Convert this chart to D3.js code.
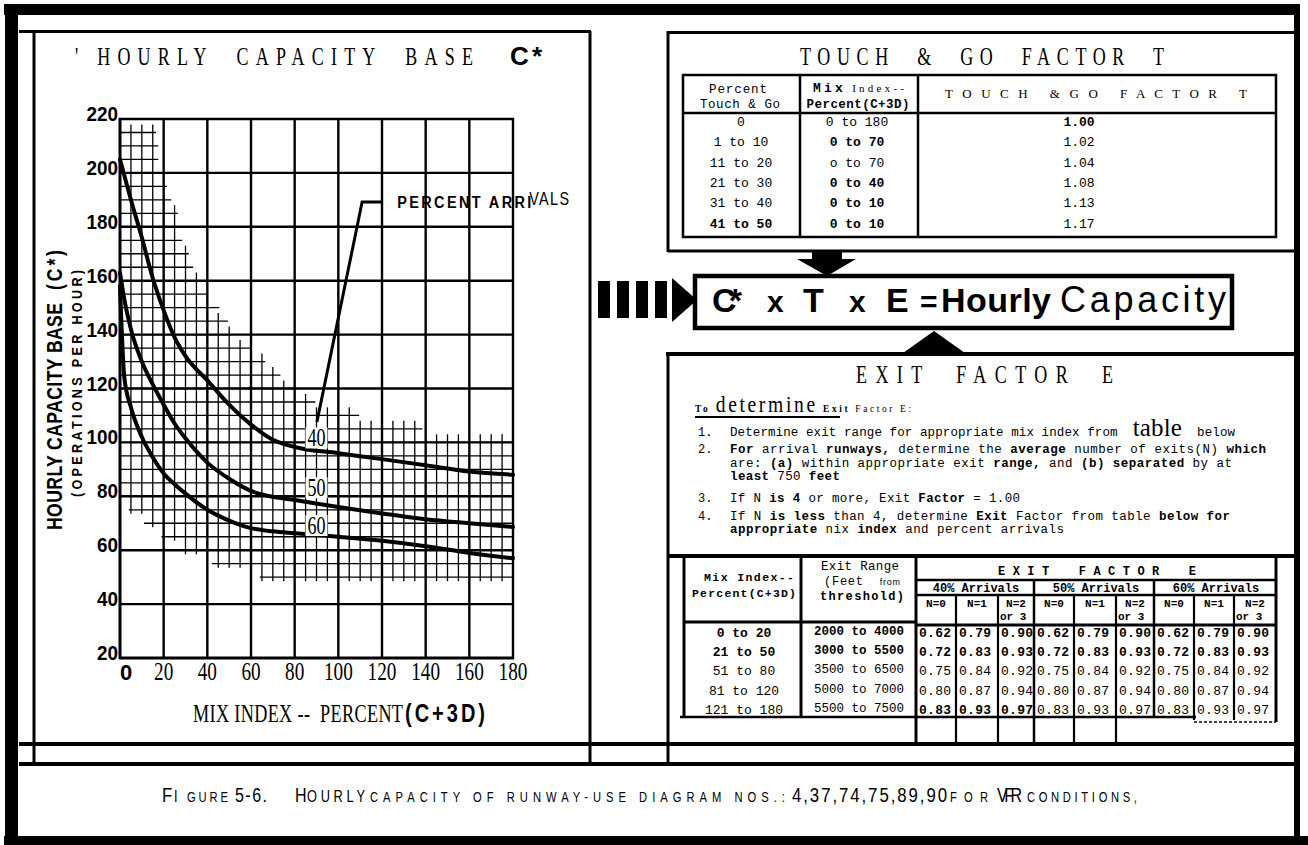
<!DOCTYPE html>
<html lang="en">
<head>
<meta charset="UTF-8">
<script src="https://d3js.org/d3.v7.min.js"></script>
<title>Hourly Capacity</title>
<style>
  body { margin: 0; background: #fff; }
  svg { display: block; }
</style>
</head>
<body>
<div id="chart"></div>
<script>
// ---- data ----
var xTicks = [0, 20, 40, 60, 80, 100, 120, 140, 160, 180];
var yTicks = [20, 40, 60, 80, 100, 120, 140, 160, 180, 200, 220];

// capacity curves by percent arrivals
var mixPts = [0, 2, 5, 10, 15, 20, 25, 30, 40, 50, 60, 70, 80, 100, 120, 140, 160, 180];
var cap40  = [205, 199, 190, 176, 161, 149, 139, 132, 123, 114, 106.6, 101, 98.3, 96, 93.8, 91.5, 89.2, 88];
var cap50  = [163, 153, 142, 130, 121.5, 114, 107, 101.5, 92.5, 86.5, 82, 79.8, 78.6, 76, 73.6, 71.5, 70, 68.6];
var cap60  = [158, 124, 113, 102, 94.5, 88.5, 84.5, 81, 75, 71, 68.2, 67, 66.3, 65, 63.5, 61.5, 59, 57];
var arrivalLabels = ["40", "50", "60"];

// fine hatching area (row value -> mix index from / to)
var hatchCap  = [50,55,60,65,70,75,80,85,90,95,100,105,110,115,120,125,130,135,140,145,150,155,160,165,170,175,180,185,190,195,200,205,210,215];
var hatchFrom = [65,43,30,20,12,5,0,0,0,0,0,0,0,0,0,0,0,0,0,0,0,0,0,0,0,0,0,0,0,0,0,0,0,0];
var hatchTo   = [180,180,180,180,180,180,180,180,180,180,180,137,108,88,80,72,65,58,50,48,44,38,35,32,30,27,25,25,22,20,16,16,16,15];

// touch & go table
var tgPercent = ["0", "1 to 10", "11 to 20", "21 to 30", "31 to 40", "41 to 50"];
var tgMix     = ["0 to 180", "0 to 70", "o to 70", "0 to 40", "0 to 10", "0 to 10"];
var tgFactor  = [1.00, 1.02, 1.04, 1.08, 1.13, 1.17];

// exit factor table
var exitMix   = ["0 to 20", "21 to 50", "51 to 80", "81 to 120", "121 to 180"];
var exitRange = ["2000 to 4000", "3000 to 5500", "3500 to 6500", "5000 to 7000", "5500 to 7500"];
var arrivalGroups = ["40% Arrivals", "50% Arrivals", "60% Arrivals"];
var exitN = ["N=0", "N=1", "N=2"];
var exit40 = [[0.62,0.79,0.90],[0.72,0.83,0.93],[0.75,0.84,0.92],[0.80,0.87,0.94],[0.83,0.93,0.97]];
var exit50 = [[0.62,0.79,0.90],[0.72,0.83,0.93],[0.75,0.84,0.92],[0.80,0.87,0.94],[0.83,0.93,0.97]];
var exit60 = [[0.62,0.79,0.90],[0.72,0.83,0.93],[0.75,0.84,0.92],[0.80,0.87,0.94],[0.83,0.93,0.97]];

var SERIF = "'Liberation Serif', 'DejaVu Serif', serif";
var SANS = "'Liberation Sans', Arial, sans-serif";
var MONO = "'Liberation Mono', 'DejaVu Sans Mono', monospace";
var f2 = d3.format(".2f");

var svg = d3.select("#chart").append("svg")
    .attr("width", 1308)
    .attr("height", 845);

// text helper: x,y anchor, optional horizontal squeeze and fitted length
function T(sel, s, x, y, o) {
    o = o || {};
    var sx = o.sx || 1;
    var tr = "translate(" + x + "," + y + ")" + (o.rot ? " rotate(" + o.rot + ")" : "") + " scale(" + sx + ",1)";
    var t = sel.append("text")
        .attr("transform", tr)
        .attr("font-family", o.f || SERIF)
        .attr("font-size", o.s || 13)
        .attr("font-weight", o.w || "normal")
        .attr("text-anchor", o.a || "start")
        .attr("fill", "#000")
        .style("white-space", "pre");
    if (Array.isArray(s)) {
        s.forEach(function(p) {
            var ts = t.append("tspan").text(p[0]);
            if (p[1]) Object.keys(p[1]).forEach(function(k) { ts.attr(k, p[1][k]); });
        });
    } else {
        t.text(s);
    }
    if (o.len) t.attr("textLength", o.len / sx).attr("lengthAdjust", "spacing");
    return t;
}
function L(sel, x1, y1, x2, y2, w) {
    return sel.append("line").attr("x1", x1).attr("y1", y1).attr("x2", x2).attr("y2", y2)
        .attr("stroke", "#000").attr("stroke-width", w || 2);
}
function R(sel, x, y, w, h) {
    return sel.append("rect").attr("x", x).attr("y", y).attr("width", w).attr("height", h).attr("fill", "#000");
}

// ---- page frame ----
var frame = svg.append("g");
R(frame, 4, 4, 1296, 11);
R(frame, 5, 4, 13, 841);
R(frame, 4, 836, 1304, 9);
R(frame, 1294, 4, 6, 841);
L(frame, 19, 31.5, 591, 31.5, 3);
L(frame, 668, 32.5, 1296, 32.5, 3);
L(frame, 34, 31, 34, 764, 3);
L(frame, 590, 31, 590, 764, 3);
L(frame, 668, 31, 668, 252, 3);
L(frame, 668, 352, 668, 764, 3);
L(frame, 19, 744, 1296, 744, 4);
L(frame, 19, 764, 1296, 764, 4);

// ---- left panel: hourly capacity base chart ----
var x = d3.scaleLinear().domain([0, 180]).range([120, 513]);
var y = d3.scaleLinear().domain([20, 220]).range([658, 119]);

T(svg, "' HOURLY  CAPACITY  BASE", 75, 65, {s: 25, sx: 0.72, len: 398});
T(svg, "C*", 510, 65, {f: SANS, s: 26, w: 900, len: 32});

var plot = svg.append("g");

// fine hatching rows
var hatchRows = hatchCap.map(function(v, i) { return {v: v, a: hatchFrom[i], b: hatchTo[i]}; });
plot.selectAll(".hrow").data(hatchRows).enter().append("line").attr("class", "hrow")
    .attr("x1", function(d) { return x(Math.max(0, d.a - 1)); })
    .attr("x2", function(d) { return x(Math.min(180, d.b + 1.5)); })
    .attr("y1", function(d) { return y(d.v); })
    .attr("y2", function(d) { return y(d.v); })
    .attr("stroke", "#000").attr("stroke-width", 1.3);

// fine hatching columns, extent taken from the rows
var hatchCols = d3.range(5, 180, 5).filter(function(m) { return m % 20 !== 0; }).map(function(m) {
    var rows = hatchRows.filter(function(r) { return r.a <= m && m <= r.b; });
    return {m: m, lo: d3.min(rows, function(r) { return r.v; }) - 1.5,
            hi: Math.min(220, d3.max(rows, function(r) { return r.v; }) + 3)};
});
plot.selectAll(".hcol").data(hatchCols).enter().append("line").attr("class", "hcol")
    .attr("x1", function(d) { return x(d.m); })
    .attr("x2", function(d) { return x(d.m); })
    .attr("y1", function(d) { return y(d.lo); })
    .attr("y2", function(d) { return y(d.hi); })
    .attr("stroke", "#000").attr("stroke-width", 1.3);

// major grid
plot.selectAll(".gx").data(xTicks).enter().append("line").attr("class", "gx")
    .attr("x1", function(d) { return x(d); }).attr("x2", function(d) { return x(d); })
    .attr("y1", y(20) + 1).attr("y2", y(220) - 1)
    .attr("stroke", "#000").attr("stroke-width", function(d) { return d === 0 ? 3 : 2.4; });
plot.selectAll(".gy").data(yTicks).enter().append("line").attr("class", "gy")
    .attr("x1", x(0) - 1).attr("x2", x(180) + 1)
    .attr("y1", function(d) { return y(d); }).attr("y2", function(d) { return y(d); })
    .attr("stroke", "#000").attr("stroke-width", function(d) { return d === 20 ? 3 : 2.4; });

// tick labels
plot.selectAll(".yl").data(yTicks).enter().append("text").attr("class", "yl")
    .attr("transform", function(d) { return "translate(118," + (y(d) + 2) + ") scale(0.9,1)"; })
    .attr("text-anchor", "end").attr("font-family", SANS).attr("font-weight", "bold")
    .attr("font-size", 21).text(function(d) { return d; });
plot.selectAll(".xl").data(xTicks).enter().append("text").attr("class", "xl")
    .attr("transform", function(d) { return "translate(" + (d === 0 ? x(d) + 6 : x(d)) + ",680) scale(" + (d === 0 ? 1 : 0.74) + ",1)"; })
    .attr("text-anchor", "middle")
    .attr("font-family", function(d) { return d === 0 ? SANS : SERIF; })
    .attr("font-weight", function(d) { return d === 0 ? "bold" : "normal"; })
    .attr("font-size", function(d) { return d === 0 ? 22 : 26; })
    .text(function(d) { return d; });

// axis titles
T(svg, "MIX INDEX --  PERCENT", 193, 722, {s: 26, sx: 0.7, len: 210});
T(svg, "(C+3D)", 405, 722, {f: SANS, s: 25, w: "bold", sx: 0.8, len: 80});
T(svg, "HOURLY CAPACITY BASE", 62, 530, {f: SANS, s: 22, w: "bold", sx: 0.8, rot: -90, len: 227});
T(svg, "(C*)", 62, 290, {f: SANS, s: 22, w: "bold", sx: 0.8, rot: -90, len: 40});
T(svg, "(OPERATIONS PER HOUR)", 82, 497, {f: SANS, s: 14, w: "bold", sx: 0.9, rot: -90, len: 227});

// curves
var curveData = [cap40, cap50, cap60];
var line = d3.line()
    .x(function(d, i) { return x(mixPts[i]); })
    .y(function(d) { return y(d); })
    .curve(d3.curveMonotoneX);
plot.selectAll(".curve").data(curveData).enter().append("path").attr("class", "curve")
    .attr("d", line).attr("fill", "none").attr("stroke", "#000")
    .attr("stroke-width", 4).attr("stroke-linecap", "round");

// curve labels
var labelMix = 90;
var labelCap = [98.5, 80, 66];
arrivalLabels.forEach(function(lab, i) {
    plot.append("rect").attr("x", x(labelMix) - 11).attr("y", y(labelCap[i]) - 19)
        .attr("width", 22).attr("height", 21).attr("fill", "#fff");
    T(plot, lab, x(labelMix), y(labelCap[i]), {s: 25, sx: 0.72, a: "middle"});
});

// percent arrivals leader
var leaderMix = [120.5, 110.9, 90.2];
var leaderCap = [189.2, 189.2, 107.6];
plot.append("path")
    .attr("d", d3.line().x(function(d, i) { return x(leaderMix[i]); }).y(function(d) { return y(d); })(leaderCap))
    .attr("fill", "none").attr("stroke", "#000").attr("stroke-width", 3);
T(plot, "PERCENT ARRI", x(127), y(187), {f: SANS, s: 17, w: "bold", sx: 0.85, len: 134});
T(plot, "VALS", x(187.4), y(188), {f: SANS, s: 18, sx: 0.8, len: 40});

// ---- touch & go panel ----
var tg = svg.append("g");
T(tg, "TOUCH  &  GO  FACTOR  T", 800, 65, {s: 25, sx: 0.72, len: 364});
tg.append("rect").attr("x", 683).attr("y", 75).attr("width", 593).attr("height", 162)
    .attr("fill", "none").attr("stroke", "#000").attr("stroke-width", 2.5);
L(tg, 668, 251, 1296, 251, 3);
L(tg, 683, 113, 1276, 113, 2.5);
L(tg, 800, 75, 800, 237, 2.5);
L(tg, 918, 75, 918, 237, 2.5);
T(tg, "Percent", 738, 93, {f: MONO, s: 12.5, a: "middle", len: 58});
T(tg, "Touch & Go", 740, 108, {f: MONO, s: 12.5, a: "middle", len: 80});
T(tg, [["Mix", {"font-weight": "bold", "font-family": MONO, "font-size": 13}], [" Index--", {"font-size": 11}]], 813, 92, {len: 91});
T(tg, "Percent(C+3D)", 858, 108, {f: MONO, s: 12.5, w: "bold", a: "middle", len: 103});
T(tg, "T O U C H   & G O   F A C T O R   T", 945, 98, {s: 13, len: 302});

var tgY = d3.scaleBand().domain(d3.range(tgPercent.length)).range([113, 235]);
tg.selectAll(".tp").data(tgPercent).enter().append("text").attr("class", "tp")
    .attr("x", 741).attr("y", function(d, i) { return tgY(i) + 13; })
    .attr("text-anchor", "middle").attr("font-family", MONO).attr("font-size", 13)
    .attr("font-weight", function(d, i) { return i === 5 ? "bold" : "normal"; })
    .text(function(d) { return d; });
tg.selectAll(".tm").data(tgMix).enter().append("text").attr("class", "tm")
    .attr("x", 857).attr("y", function(d, i) { return tgY(i) + 13; })
    .attr("text-anchor", "middle").attr("font-family", MONO).attr("font-size", 13)
    .attr("font-weight", function(d, i) { return (i === 0 || i === 2) ? "normal" : "bold"; })
    .text(function(d) { return d; });
tg.selectAll(".tf").data(tgFactor).enter().append("text").attr("class", "tf")
    .attr("x", 1079).attr("y", function(d, i) { return tgY(i) + 13; })
    .attr("text-anchor", "middle").attr("font-family", MONO).attr("font-size", 13)
    .attr("font-weight", function(d, i) { return i === 0 ? "bold" : "normal"; })
    .text(function(d) { return f2(d); });

// ---- arrows and formula ----
var fm = svg.append("g");
[598, 617, 636, 655].forEach(function(bx) { R(fm, bx, 281, 12, 37); });
fm.append("path").attr("d", "M672,278 L697,300 L672,322 Z").attr("fill", "#000");
R(fm, 812, 251, 30, 10);
fm.append("path").attr("d", "M797,259 L856,259 L827,276 Z").attr("fill", "#000");
fm.append("path").attr("d", "M903,353 L965,353 L934,331 Z").attr("fill", "#000");
fm.append("rect").attr("x", 695).attr("y", 276).attr("width", 537).attr("height", 52)
    .attr("fill", "#fff").attr("stroke", "#000").attr("stroke-width", 4.5);
T(fm, "C*", 712, 312, {f: SANS, s: 34, w: 900, len: 30});
T(fm, "x", 767, 312, {f: SANS, s: 30, w: "bold", len: 14});
T(fm, "T", 803, 312, {f: SANS, s: 34, w: 900, len: 21});
T(fm, "x", 849, 312, {f: SANS, s: 30, w: "bold", len: 14});
T(fm, "E", 886, 312, {f: SANS, s: 34, w: 900, len: 21});
T(fm, "=", 920, 312, {f: SANS, s: 30, w: "bold", len: 16});
T(fm, "Hourly", 941, 312, {f: SANS, s: 34, w: "bold", len: 110});
T(fm, "Capacity", 1060, 312, {f: SANS, s: 36, len: 166});

// ---- exit factor panel ----
var ex = svg.append("g");
L(ex, 666, 354, 1297, 354, 4);
T(ex, "EXIT  FACTOR  E", 856, 383, {s: 25, sx: 0.72, len: 257});
var B = {"font-weight": "bold", "font-family": MONO};
var BS = {"font-weight": "bold", "font-size": 11};
T(ex, [["To", {"font-weight": "bold", "font-size": 11}], [" "], ["determine", {"font-size": 23}], [" "],
       ["Exit", BS], [" Factor E:", {"font-size": 11}]], 695, 412, {sx: 0.85, len: 216});
L(ex, 695, 417, 840, 417, 2);

var instr = [
    {n: "1.", y: 436, len: 505, p: [["Determine exit range for appropriate mix index from  "], ["table", {"font-family": SERIF, "font-size": 25}], ["  below"]]},
    {n: "2.", y: 453, len: 536, p: [["For", B], [" arrival "], ["runways,", B], [" determine the "], ["average", B], [" number of exits(N) "], ["which", B]]},
    {n: "", y: 467, len: 502, p: [["are: "], ["(a)", B], [" within appropriate exit "], ["range,", B], [" and "], ["(b) separated", B], [" by at"]]},
    {n: "", y: 480, len: 110, p: [["least", B], [" 750 "], ["feet", B]]},
    {n: "3.", y: 502, len: 290, p: [["If N "], ["is 4", B], [" or more, Exit "], ["Factor", B], [" = 1.00"]]},
    {n: "4.", y: 520, len: 500, p: [["If N "], ["is less", B], [" than 4, determine "], ["Exit", B], [" Factor from table "], ["below for", B]]},
    {n: "", y: 533, len: 334, p: [["appropriate", B], [" nix "], ["index", B], [" and percent arrivals"]]}
];
instr.forEach(function(r) {
    if (r.n) T(ex, r.n, 698, r.y, {f: MONO, s: 12});
    T(ex, r.p, 730, r.y, {f: MONO, s: 12.5, len: r.len});
});

// exit table frame
L(ex, 668, 556, 1294, 556, 4);
L(ex, 684, 556, 684, 717, 3);
L(ex, 801, 556, 801, 717, 3);
L(ex, 684, 622, 916, 622, 3);
L(ex, 916, 556, 916, 742, 3);
L(ex, 1276, 556, 1276, 722, 3);
L(ex, 916, 580, 1276, 580, 2.5);
L(ex, 916, 595, 1276, 595, 2.5);
L(ex, 916, 625, 1276, 625, 3);
L(ex, 680, 717, 1196, 717, 2.5);
L(ex, 1194, 722, 1276, 722, 1.5).attr("stroke-dasharray", "3,2");
var colEdges = [916, 956, 998, 1034, 1074, 1116, 1154, 1194, 1234, 1276];
[1034, 1154].forEach(function(cx) { L(ex, cx, 580, cx, cx === 1034 ? 742 : 717, 2.5); });
[956, 998, 1074, 1116].forEach(function(cx) { L(ex, cx, 595, cx, 742, 2.2); });
[1194, 1234].forEach(function(cx) { L(ex, cx, 595, cx, 720, 2.2); });

T(ex, "Mix Index--", 749, 581, {f: MONO, s: 11.5, w: "bold", a: "middle", len: 90});
T(ex, "Percent(C+3D)", 744, 597, {f: MONO, s: 11.5, w: "bold", a: "middle", len: 104});
T(ex, "Exit Range", 860, 570, {f: MONO, s: 12.5, a: "middle", len: 78});
T(ex, [["(Feet  "], ["from", {"font-size": 9, "font-family": SANS}]], 824, 585, {f: MONO, s: 12, len: 76});
T(ex, "threshold)", 862, 600, {f: MONO, s: 12, w: "bold", a: "middle", len: 84});
T(ex, "E X I T    F A C T O R    E", 998, 575, {f: MONO, s: 12, w: "bold", len: 198});

var groupX = d3.scaleBand().domain(arrivalGroups).range([916, 1276]);
ex.selectAll(".ag").data(arrivalGroups).enter().append("text").attr("class", "ag")
    .attr("x", function(d) { return groupX(d) + groupX.bandwidth() / 2; }).attr("y", 592)
    .attr("text-anchor", "middle").attr("font-family", MONO).attr("font-size", 12)
    .attr("font-weight", "bold").text(function(d) { return d; });

var exitTables = [exit40, exit50, exit60];
var nCols = [];
exitTables.forEach(function(tbl, g) {
    exitN.forEach(function(n, k) { nCols.push({g: g, k: k, n: n, x0: colEdges[g * 3 + k], x1: colEdges[g * 3 + k + 1]}); });
});
ex.selectAll(".nh").data(nCols).enter().append("text").attr("class", "nh")
    .attr("x", function(d) { return (d.x0 + d.x1) / 2; }).attr("y", 607)
    .attr("text-anchor", "middle").attr("font-family", MONO).attr("font-size", 11)
    .attr("font-weight", "bold").text(function(d) { return d.n; });
ex.selectAll(".nh3").data(nCols.filter(function(d) { return d.k === 2; })).enter().append("text").attr("class", "nh3")
    .attr("x", function(d) { return d.x0 + 2; }).attr("y", 620)
    .attr("font-family", MONO).attr("font-size", 11).attr("font-weight", "bold").text("or 3");

var rowY = d3.scaleBand().domain(exitMix).range([624, 720]);
ex.selectAll(".em").data(exitMix).enter().append("text").attr("class", "em")
    .attr("x", 744).attr("y", function(d) { return rowY(d) + 13; })
    .attr("text-anchor", "middle").attr("font-family", MONO).attr("font-size", 13)
    .attr("font-weight", function(d, i) { return i < 2 ? "bold" : "normal"; })
    .text(function(d) { return d; });
ex.selectAll(".er").data(exitRange).enter().append("text").attr("class", "er")
    .attr("x", 859).attr("y", function(d, i) { return rowY(exitMix[i]) + 11; })
    .attr("text-anchor", "middle").attr("font-family", MONO).attr("font-size", 12.5)
    .attr("font-weight", function(d, i) { return i < 2 ? "bold" : "normal"; })
    .text(function(d) { return d; });

var cells = [];
exitTables.forEach(function(tbl, g) {
    tbl.forEach(function(row, r) {
        row.forEach(function(v, k) { cells.push({r: r, v: v, c: nCols[g * 3 + k]}); });
    });
});
ex.selectAll(".ev").data(cells).enter().append("text").attr("class", "ev")
    .attr("x", function(d) { return d.c.x0 + 3; })
    .attr("y", function(d) { return rowY(exitMix[d.r]) + 13; })
    .attr("font-family", MONO).attr("font-size", 13)
    .attr("font-weight", function(d) { return d.r < 2 || (d.r === 4 && d.c.g === 0) ? "bold" : "normal"; })
    .attr("textLength", 32).attr("lengthAdjust", "spacing")
    .text(function(d) { return f2(d.v); });

// ---- caption ----
var cap = svg.append("g");
var capParts = [
    ["F", 162, 10, 21], ["I", 174, 5, 16], ["GURE", 187, 41, 14], ["5-6.", 235, 32, 20],
    ["H", 295, 11, 20], ["OURLY", 307, 58, 16], ["CAPACITY OF RUNWAY-USE DIAGRAM NOS.:", 370, 415, 14],
    ["4,37,74,75,89,90", 792, 155, 21], ["FOR", 950, 38, 14], ["VFR", 997, 25, 20], ["CONDITIONS,", 1027, 110, 14]
];
capParts.forEach(function(p) {
    T(cap, p[0], p[1], 802, {f: SANS, s: p[3], sx: 0.8, len: p[2]});
});
</script>
</body>
</html>
